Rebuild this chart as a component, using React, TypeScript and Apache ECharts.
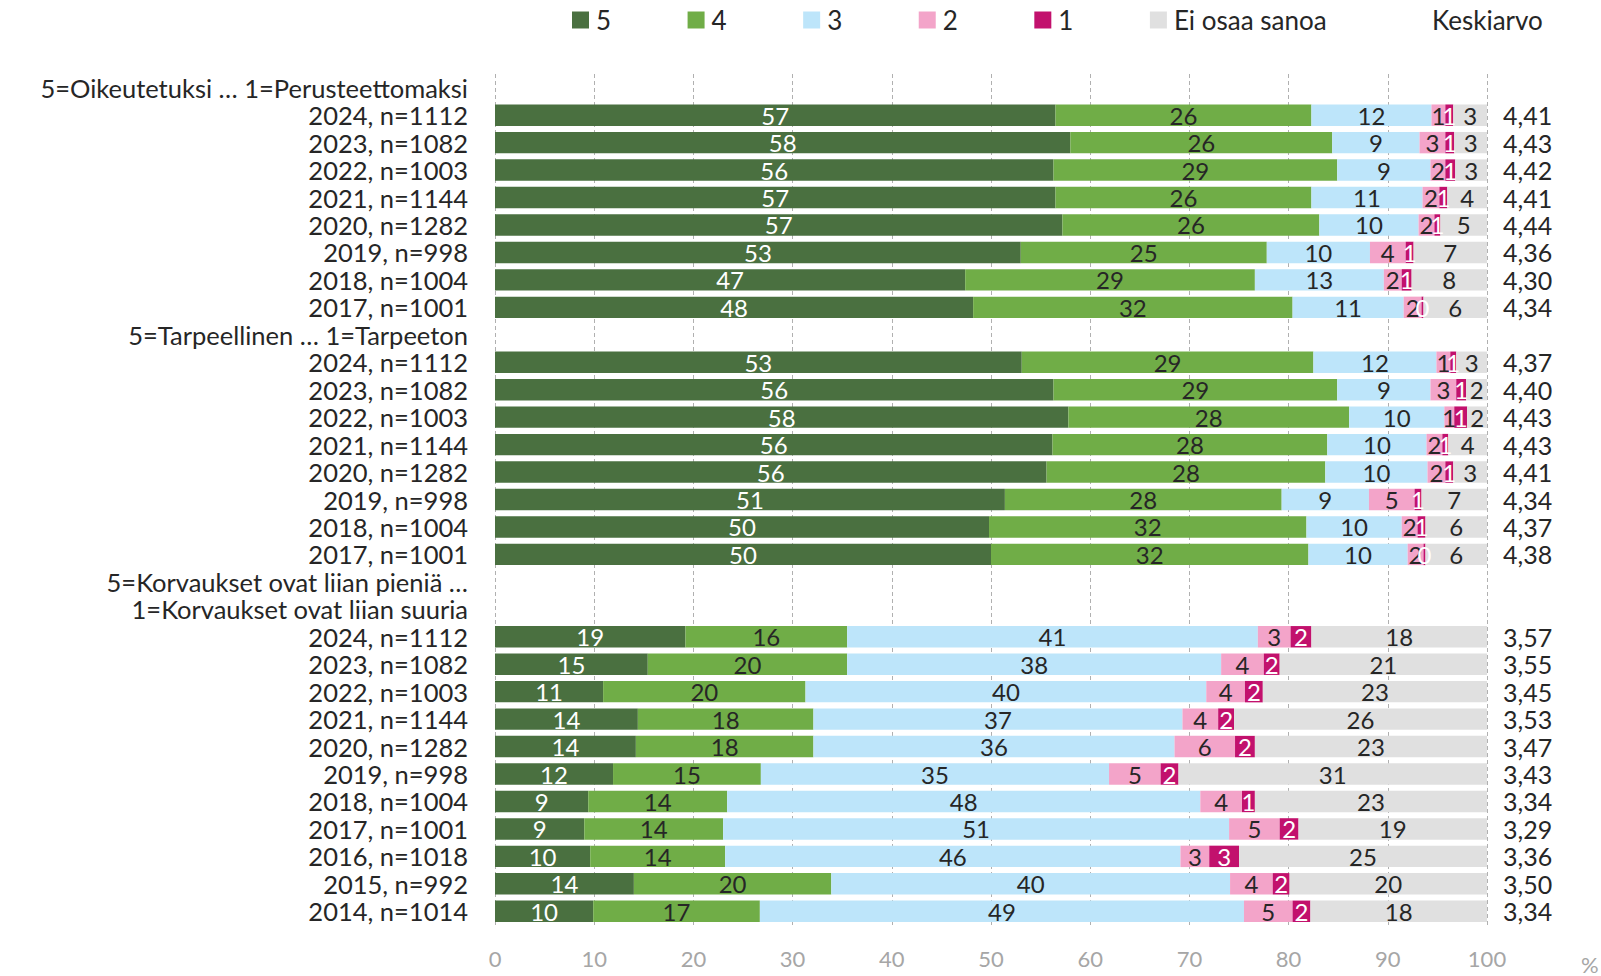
import React, { useEffect, useRef } from 'react';
import * as echarts from 'echarts';

const rowLabels = [
  '5=Oikeutetuksi … 1=Perusteettomaksi',
  '2024, n=1112', '2023, n=1082', '2022, n=1003', '2021, n=1144', '2020, n=1282', '2019, n=998', '2018, n=1004', '2017, n=1001',
  '5=Tarpeellinen … 1=Tarpeeton',
  '2024, n=1112', '2023, n=1082', '2022, n=1003', '2021, n=1144', '2020, n=1282', '2019, n=998', '2018, n=1004', '2017, n=1001',
  '5=Korvaukset ovat liian pieniä …',
  '1=Korvaukset ovat liian suuria',
  '2024, n=1112', '2023, n=1082', '2022, n=1003', '2021, n=1144', '2020, n=1282', '2019, n=998', '2018, n=1004', '2017, n=1001', '2016, n=1018', '2015, n=992', '2014, n=1014',
];

const seriesNames = ['5', '4', '3', '2', '1', 'Ei osaa sanoa'];

const v5 = [null, 56.5, 58.0, 56.3, 56.5, 57.2, 53.0, 47.4, 48.2, null, 53.1, 56.3, 57.8, 56.2, 55.6, 51.4, 49.8, 50.0, null, null, 19.2, 15.4, 10.9, 14.4, 14.2, 11.9, 9.4, 9.0, 9.6, 14.0, 9.9];
const v4 = [null, 25.8, 26.4, 28.6, 25.8, 25.9, 24.8, 29.2, 32.2, null, 29.4, 28.6, 28.3, 27.7, 28.1, 27.9, 32.0, 32.0, null, null, 16.3, 20.1, 20.4, 17.7, 17.9, 14.9, 14.0, 14.0, 13.6, 19.9, 16.8];
const v3 = [null, 12.1, 8.8, 9.4, 11.2, 10.0, 10.4, 13.0, 11.2, null, 12.4, 9.4, 9.6, 10.0, 10.3, 8.8, 9.6, 10.0, null, null, 41.4, 37.7, 40.4, 37.2, 36.4, 35.1, 47.7, 51.0, 45.9, 40.2, 48.8];
const v2 = [null, 1.4, 2.6, 1.5, 1.7, 1.6, 3.6, 1.8, 1.8, null, 1.4, 2.6, 1.0, 1.6, 1.8, 4.6, 1.6, 1.6, null, null, 3.3, 4.3, 3.9, 3.6, 6.1, 5.2, 4.2, 5.1, 2.9, 4.3, 4.9];
const v1 = [null, 0.8, 0.9, 1.0, 0.8, 0.6, 0.8, 1.0, 0.2, null, 0.6, 1.0, 1.3, 0.6, 0.8, 0.7, 0.8, 0.2, null, null, 2.1, 1.6, 1.8, 1.6, 2.0, 1.8, 1.3, 1.9, 3.0, 1.7, 1.8];
const vEos = [null, 3.4, 3.3, 3.2, 4.0, 4.7, 7.4, 7.6, 6.4, null, 3.1, 2.1, 2.0, 3.9, 3.4, 6.6, 6.2, 6.2, null, null, 17.7, 20.9, 22.6, 25.5, 23.4, 31.1, 23.4, 19.0, 25.0, 19.9, 17.8];

const keskiarvo = [null, 4.41, 4.43, 4.42, 4.41, 4.44, 4.36, 4.30, 4.34, null, 4.37, 4.40, 4.43, 4.43, 4.41, 4.34, 4.37, 4.38, null, null, 3.57, 3.55, 3.45, 3.53, 3.47, 3.43, 3.34, 3.29, 3.36, 3.50, 3.34];

const xTicks = { min: 0, max: 100, interval: 10 };

const colors = ['#4a7040', '#70ad47', '#bde5fa', '#f3a4c9', '#c2116d', '#e0e0e0'];
const labelColors = ['#ffffff', '#262626', '#262626', '#262626', '#ffffff', '#262626'];

const FONT = 'Lato';

export default function App() {
  const ref = useRef<HTMLDivElement>(null);
  useEffect(() => {
    if (!ref.current) return;
    const chart = echarts.init(ref.current, undefined, { renderer: 'svg' });
    const allData = [v5, v4, v3, v2, v1, vEos];
    const series = allData.map((d, i) => ({
      name: seriesNames[i],
      type: 'bar',
      stack: 'total',
      data: d,
      barCategoryGap: '22%',
      itemStyle: { color: colors[i] },
      emphasis: { disabled: true },
      label: {
        show: true,
        position: 'inside',
        color: labelColors[i],
        fontFamily: FONT,
        fontSize: 24,
        formatter: (p: any) => (p.value == null ? '' : String(Math.round(p.value))),
      },
    }));
    chart.setOption({
      animation: false,
      textStyle: { fontFamily: FONT },
      legend: {
        data: seriesNames,
        left: 572,
        top: 7,
        padding: 0,
        icon: 'rect',
        itemWidth: 17,
        itemHeight: 17,
        itemGap: 76.5,
        selectedMode: false,
        textStyle: { fontFamily: FONT, fontSize: 26, color: '#262626', padding: [0, 0, 0, 2] },
      },
      grid: { left: 495, right: 114, top: 74, bottom: 51, containLabel: false },
      xAxis: {
        type: 'value',
        min: xTicks.min,
        max: xTicks.max,
        interval: xTicks.interval,
        axisLine: { show: false },
        axisTick: { show: false },
        splitLine: { show: true, lineStyle: { type: [4, 3], color: '#b0b0b0', width: 1 } },
        axisLabel: { color: '#a6a6a6', fontSize: 22, fontFamily: FONT, margin: 22 },
      },
      yAxis: [
        {
          type: 'category',
          data: rowLabels,
          inverse: true,
          axisLine: { show: false },
          axisTick: { show: false },
          axisLabel: { interval: 0, color: '#262626', fontSize: 25.5, fontFamily: FONT, margin: 27 },
        },
        {
          type: 'category',
          position: 'right',
          data: keskiarvo.map((v) => (v == null ? '' : v.toFixed(2).replace('.', ','))),
          inverse: true,
          axisLine: { show: false },
          axisTick: { show: false },
          axisLabel: { interval: 0, color: '#262626', fontSize: 25, fontFamily: FONT, margin: 16 },
        },
      ],
      graphic: [
        { type: 'text', left: 1432, top: 7, style: { text: 'Keskiarvo', font: `26px ${FONT}`, fill: '#262626' } },
        { type: 'text', left: 1581, top: 953, style: { text: '%', font: `22px ${FONT}`, fill: '#a6a6a6' } },
      ],
      series,
    });
    return () => chart.dispose();
  }, []);
  return <div ref={ref} style={{ position: 'absolute', left: 0, top: 0, width: 1601, height: 976 }} />;
}
